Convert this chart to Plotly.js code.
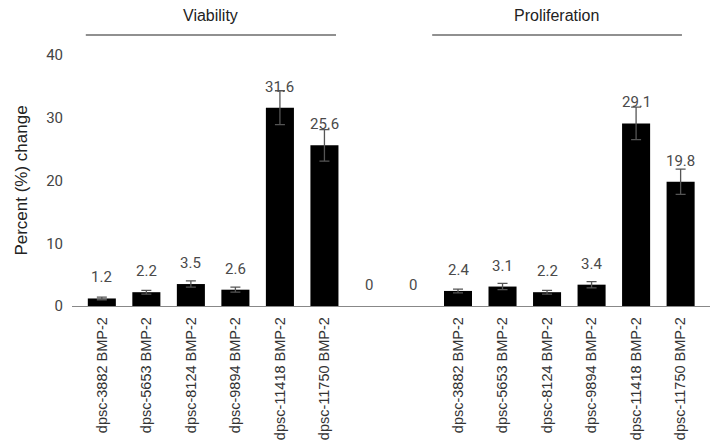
<!DOCTYPE html>
<html>
<head>
<meta charset="utf-8">
<script src="https://cdn.plot.ly/plotly-3.0.1.min.js"></script>
<style>html,body{margin:0;padding:0;background:#fff;}#chart{width:717px;height:448px;}</style>
</head>
<body>
<div id="chart"></div>
<script>
const tickLabels = [
  "dpsc-3882 BMP-2","dpsc-5653 BMP-2","dpsc-8124 BMP-2","dpsc-9894 BMP-2","dpsc-11418 BMP-2","dpsc-11750 BMP-2",
  "","",
  "dpsc-3882 BMP-2","dpsc-5653 BMP-2","dpsc-8124 BMP-2","dpsc-9894 BMP-2","dpsc-11418 BMP-2","dpsc-11750 BMP-2"
];
const positions = [0,1,2,3,4,5,6,7,8,9,10,11,12,13];
const values = [1.2, 2.2, 3.5, 2.6, 31.6, 25.6, 0, 0, 2.4, 3.1, 2.2, 3.4, 29.1, 19.8];
const errors = [0.2, 0.3, 0.5, 0.4, 2.7, 2.5, 0, 0, 0.3, 0.5, 0.3, 0.5, 2.6, 2.0];
const valueLabels = ["1.2","2.2","3.5","2.6","31.6","25.6","0","0","2.4","3.1","2.2","3.4","29.1","19.8"];
const groupTitles = ["Viability", "Proliferation"];

// empty (zero) slots draw no bar and no error bar
const drawn = positions.filter((p, i) => values[i] !== 0);
const trace = {
  type: 'bar',
  x: drawn,
  y: drawn.map(p => values[p]),
  marker: {color: '#000000', line: {width: 0}},
  error_y: {type: 'data', array: drawn.map(p => errors[p]), visible: true, color: '#555555', thickness: 1.3, width: 5},
  width: 0.63,
  hoverinfo: 'skip'
};

const annotations = positions.map((p, i) => ({
  x: p, y: values[i], xref: 'x', yref: 'y',
  text: valueLabels[i], showarrow: false,
  yshift: 21, yanchor: 'middle',
  font: {family: 'Roboto, Arial, sans-serif', size: 15, color: '#4a4a4a'}
}));
annotations.push({
  x: 2.45, y: 1, xref: 'x', yref: 'paper', yshift: 40,
  text: groupTitles[0], showarrow: false, yanchor: 'middle',
  font: {family: 'Liberation Sans, Arial, sans-serif', size: 16, color: '#222222'}
});
annotations.push({
  x: 10.22, y: 1, xref: 'x', yref: 'paper', yshift: 40,
  text: groupTitles[1], showarrow: false, yanchor: 'middle',
  font: {family: 'Liberation Sans, Arial, sans-serif', size: 16, color: '#222222'}
});

const layout = {
  width: 717, height: 448,
  margin: {l: 72, r: 7, t: 55, b: 142},
  paper_bgcolor: '#ffffff', plot_bgcolor: '#ffffff',
  showlegend: false,
  xaxis: {
    range: [-0.67, 13.66],
    tickvals: positions, ticktext: tickLabels,
    tickangle: -90,
    showgrid: false, zeroline: false,
    showline: true, linecolor: '#888888', linewidth: 1.3,
    ticks: '', ticklen: 0, ticklabelstandoff: 4,
    tickfont: {family: 'Liberation Sans, Arial, sans-serif', size: 14.5, color: '#333333'},
    automargin: false,
    fixedrange: true
  },
  yaxis: {
    range: [0, 40],
    tickvals: [0, 10, 20, 30, 40],
    showgrid: false, zeroline: false, showline: false,
    ticks: '', ticklabelstandoff: 8,
    tickfont: {family: 'Roboto, Arial, sans-serif', size: 15, color: '#444444'},
    title: {text: 'Percent (%) change', standoff: 14, font: {family: 'Liberation Sans, Arial, sans-serif', size: 17, color: '#222222'}},
    automargin: false,
    fixedrange: true
  },
  shapes: [
    {type: 'line', xref: 'x', yref: 'paper', x0: -0.36, x1: 5.26, y0: 1, y1: 1, line: {color: '#222222', width: 1.2}},
    {type: 'line', xref: 'x', yref: 'paper', x0: 7.42, x1: 13.03, y0: 1, y1: 1, line: {color: '#222222', width: 1.2}}
  ],
  annotations: annotations
};
// place the group lines above the plot area (paper fraction)
const plotH = 448 - 55 - 142;
layout.shapes.forEach(s => { s.y0 = 1 + 20 / plotH; s.y1 = s.y0; });

Plotly.newPlot('chart', [trace], layout, {displayModeBar: false, staticPlot: true});
</script>
</body>
</html>
